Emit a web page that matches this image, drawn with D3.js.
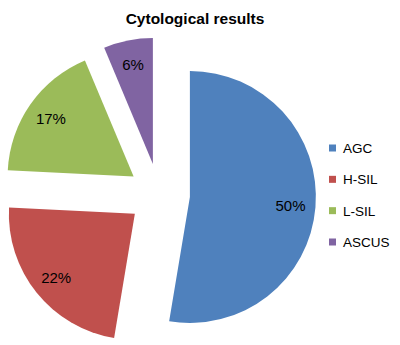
<!DOCTYPE html>
<html><head><meta charset="utf-8">
<script src="https://cdn.jsdelivr.net/npm/d3@7"></script>
<style>body{margin:0;background:#fff}svg{display:block}</style>
</head><body>
<svg id="chart" width="400" height="345"></svg>
<script>
const title = "Cytological results";
const categories = ["AGC", "H-SIL", "L-SIL", "ASCUS"];
const values = [50, 22, 17, 6];
const labels = ["50%", "22%", "17%", "6%"];
const colors = ["#4F81BD", "#C0504D", "#9BBB59", "#8064A2"];

const svg = d3.select("#chart");
const cx = 159, cy = 194.4, r = 126, explode = 31;
const font = "'Liberation Sans', Arial, sans-serif";

svg.append("text").attr("x", 195).attr("y", 24).attr("text-anchor", "middle")
  .attr("font-family", font).attr("font-weight", "bold").attr("font-size", "15.5px")
  .attr("fill", "#000").text(title);

const pie = d3.pie().sort(null).value(d => d)(values);
const arc = d3.arc().innerRadius(0).outerRadius(r);
const g = svg.append("g").attr("transform", `translate(${cx},${cy})`);

const slices = g.selectAll("g.slice").data(pie).join("g").attr("class", "slice")
  .attr("transform", d => {
    const a = (d.startAngle + d.endAngle) / 2;
    return `translate(${explode * Math.sin(a)},${-explode * Math.cos(a)})`;
  });
slices.append("path").attr("d", arc).attr("fill", (d, i) => colors[i]);
slices.append("text")
  .attr("x", d => { const a = (d.startAngle + d.endAngle) / 2; return 101 * Math.sin(a); })
  .attr("y", d => { const a = (d.startAngle + d.endAngle) / 2; return -101 * Math.cos(a); })
  .attr("dy", "0.36em").attr("text-anchor", "middle")
  .attr("font-family", font).attr("font-size", "15px").attr("fill", "#000")
  .text((d, i) => labels[i]);

const ly = d3.scalePoint().domain(categories).range([148, 242]);
const leg = svg.append("g").selectAll("g").data(categories).join("g");
leg.append("rect").attr("x", 329).attr("y", d => ly(d) - 3.5).attr("width", 7).attr("height", 7)
  .attr("fill", (d, i) => colors[i]);
leg.append("text").attr("x", 343).attr("y", d => ly(d)).attr("dy", "0.36em")
  .attr("font-family", font).attr("font-size", "13.5px").attr("fill", "#000").text(d => d);
</script>
</body></html>
